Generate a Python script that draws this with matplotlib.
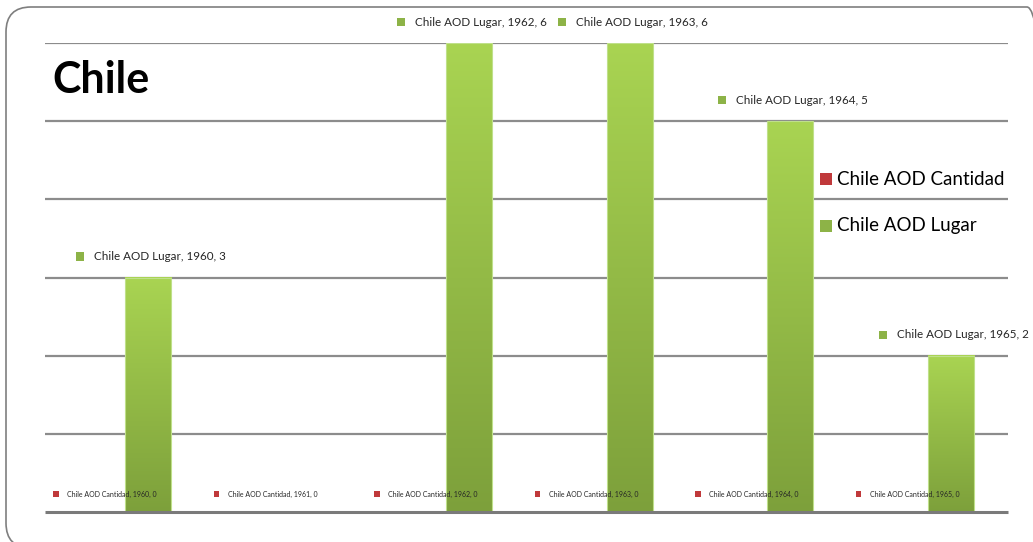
import numpy as np
import matplotlib
matplotlib.use("Agg")
import matplotlib.pyplot as plt
from matplotlib.patches import FancyBboxPatch, Rectangle
from matplotlib.offsetbox import AnnotationBbox, DrawingArea, HPacker, TextArea
from matplotlib.colors import LinearSegmentedColormap

plt.rcParams['font.family'] = ['Lato', 'DejaVu Sans']

years = [1960, 1961, 1962, 1963, 1964, 1965]
cantidad = [0, 0, 0, 0, 0, 0]
lugar = [3, np.nan, 6, 6, 5, 2]
series_names = ["Chile AOD Cantidad", "Chile AOD Lugar"]

RED = "#C0393B"
GREEN = "#8DB347"
green_cmap = LinearSegmentedColormap.from_list("bar_green", ["#7DA03B", "#A9D452"])

W, H = 1033, 542
fig = plt.figure(figsize=(W / 100, H / 100), dpi=100)
ax = fig.add_axes([45 / W, 30 / H, 963 / W, 469 / H])

# rounded chart frame (inches, so the corners stay round)
frame = FancyBboxPatch((0.06, -0.06), 10.46, 5.41,
                       boxstyle="round,pad=0,rounding_size=0.25",
                       transform=fig.dpi_scale_trans, fill=False,
                       edgecolor="#7F7F7F", linewidth=1.2, clip_on=False)
fig.patches.append(frame)

x = np.arange(len(years))
bw = 0.287
off_c, off_l = -0.145, 0.142

ax.set_xlim(-0.5, len(years) - 0.5)
ax.set_ylim(0, 6)
for s in ax.spines.values():
    s.set_visible(False)
ax.set_xticks([])
ax.set_yticks([])
for yv in range(1, 7):
    ax.axhline(yv, color="#8C8C8C", lw=1.6, zorder=1, solid_capstyle="butt")
ax.axhline(0, color="#7A7A7A", lw=2.2, zorder=4, clip_on=False,
           solid_capstyle="butt")

grad = np.linspace(0, 1, 256).reshape(-1, 1)
for xi, v in zip(x, lugar):
    if np.isnan(v) or v == 0:
        continue
    x0 = xi + off_l - bw / 2
    ax.imshow(grad, extent=[x0, x0 + bw, 0, v], origin="lower",
              aspect="auto", cmap=green_cmap, zorder=2)
    ax.add_patch(Rectangle((x0, 0), bw, v, fill=False,
                           edgecolor="#BFE08A", lw=0.8, zorder=3))
ax.set_xlim(-0.5, len(years) - 0.5)
ax.set_ylim(0, 6)


def data_label(xc, val, text, color, fsize, sq, sep, dy):
    da = DrawingArea(sq, sq, 0, 0)
    da.add_artist(Rectangle((0, 0), sq, sq, facecolor=color, edgecolor="none"))
    ta = TextArea(text, textprops=dict(fontsize=fsize, color="#262626"))
    box = HPacker(children=[da, ta], align="center", pad=0, sep=sep)
    ab = AnnotationBbox(box, (xc, val), xybox=(3, dy), xycoords="data",
                        boxcoords="offset pixels", box_alignment=(0.5, 0.5),
                        frameon=False, zorder=5, annotation_clip=False)
    ax.add_artist(ab)


for xi, yr, v in zip(x, years, cantidad):
    data_label(xi + off_c, v, f"{series_names[0]}, {yr}, {v}", RED, 5.0, 4, 6, 18)
for xi, yr, v in zip(x, years, lugar):
    if np.isnan(v):
        continue
    data_label(xi + off_l, v, f"{series_names[1]}, {yr}, {int(v)}", GREEN, 8.4, 6, 7, 21)

fig.text(52 / W, 1 - 80 / H, "Chile", fontsize=31, fontweight="bold",
         va="center", ha="left", color="black")

# legend
for i, (name, col) in enumerate(zip(series_names, [RED, GREEN])):
    yc = 179 + i * 47
    fig.patches.append(Rectangle((820 / W, 1 - (yc + 6) / H), 12 / W, 12 / H,
                                 transform=fig.transFigure, facecolor=col,
                                 edgecolor="none"))
    fig.text(837 / W, 1 - yc / H, name, fontsize=13.5, va="center",
             ha="left", color="black")

fig.savefig("out.png", dpi=100)
